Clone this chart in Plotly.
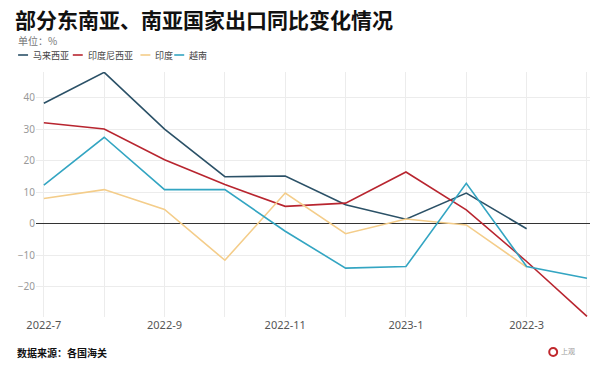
import plotly.graph_objects as go

months = ["2022-7", "2022-8", "2022-9", "2022-10", "2022-11", "2022-12",
          "2023-1", "2023-2", "2023-3", "2023-4"]
tick_labels = ["2022-7", "", "2022-9", "", "2022-11", "", "2023-1", "", "2022-3", ""]

series_names = ["马来西亚", "印度尼西亚", "印度", "越南"]
malaysia = [38.2, 48.0, 30.0, 14.9, 15.1, 6.0, 1.4, 9.7, -1.6]
indonesia = [32.0, 30.0, 20.3, 12.4, 5.5, 6.5, 16.4, 4.4, -12.0, -29.4]
india = [8.0, 10.8, 4.5, -11.6, 9.7, -3.2, 1.5, -0.4, -13.8]
vietnam = [12.2, 27.4, 10.8, 10.8, -2.4, -14.1, -13.6, 12.8, -13.6, -17.3]
series_values = [malaysia, indonesia, india, vietnam]
series_colors = ["#2b5167", "#b8252f", "#f4cd8a", "#33a5c2"]

y_ticks = [-20, -10, 0, 10, 20, 30, 40]

CJK = "Noto Sans CJK SC, Noto Sans, sans-serif"

# the page body adds an 8px offset; figure is sized so it fills the 600x367 window
OFF = 8
W, H = 600 - OFF, 367 - OFF
ML, MR, MT, MB = 33 - OFF, 10, 72 - OFF, 50
PW = W - ML - MR
PH = H - MT - MB


def px_x(p):
    # p given in window pixels
    return (p - OFF - ML) / PW


def px_y(p):
    return (H - MB - (p - OFF)) / PH


fig = go.Figure()
for name, vals, col in zip(series_names, series_values, series_colors):
    fig.add_trace(go.Scatter(
        x=months[:len(vals)], y=vals, mode="lines", name=name,
        line=dict(color=col, width=1.6), showlegend=False,
    ))

fig.update_layout(
    width=W, height=H,
    margin=dict(l=ML, r=MR, t=MT, b=MB),
    paper_bgcolor="white", plot_bgcolor="white",
    font=dict(family=CJK),
    xaxis=dict(
        type="category", categoryorder="array", categoryarray=months,
        tickvals=months, ticktext=tick_labels,
        range=[-0.13, 9.05],
        showgrid=True, gridcolor="#ececec", gridwidth=1,
        zeroline=False, showline=False, ticks="",
        tickfont=dict(family="Noto Sans, sans-serif", size=11, color="#555"),
    ),
    yaxis=dict(
        range=[-29.6, 48.1],
        tickvals=y_ticks,
        showgrid=True, gridcolor="#ececec", gridwidth=1,
        zeroline=True, zerolinecolor="#333", zerolinewidth=1,
        showline=False, ticks="",
        tickfont=dict(family="Noto Sans, sans-serif", size=10, color="#999"),
    ),
)

anns = []
anns.append(dict(text="<b>部分东南亚、南亚国家出口同比变化情况</b>", xref="paper", yref="paper",
                 x=px_x(10), y=px_y(19), xanchor="left", yanchor="middle",
                 showarrow=False, font=dict(family=CJK, size=21, color="#111")))
anns.append(dict(text="单位：%", xref="paper", yref="paper",
                 x=px_x(13), y=px_y(40), xanchor="left", yanchor="middle",
                 showarrow=False, font=dict(family=CJK, size=10, color="#777")))
anns.append(dict(text="<b>数据来源：各国海关</b>", xref="paper", yref="paper",
                 x=px_x(12), y=px_y(352), xanchor="left", yanchor="middle",
                 showarrow=False, font=dict(family=CJK, size=10, color="#111")))
anns.append(dict(text="上观", xref="paper", yref="paper",
                 x=px_x(559), y=px_y(351), xanchor="left", yanchor="middle",
                 showarrow=False, font=dict(family=CJK, size=7, color="#999")))

shapes = []
# compact legend
leg_x = [15, 70, 138, 172]
for px, name, col in zip(leg_x, series_names, series_colors):
    yy = px_y(55)
    shapes.append(dict(type="line", xref="paper", yref="paper",
                       x0=px_x(px), x1=px_x(px + 10), y0=yy, y1=yy,
                       line=dict(color=col, width=1.6)))
    anns.append(dict(text=name, xref="paper", yref="paper",
                     x=px_x(px + 13), y=yy, xanchor="left", yanchor="middle",
                     showarrow=False, font=dict(family=CJK, size=9, color="#444")))
# logo ring
shapes.append(dict(type="circle", xref="paper", yref="paper",
                   x0=px_x(549), x1=px_x(557), y0=px_y(356), y1=px_y(348),
                   line=dict(color="#c0282d", width=2)))

fig.update_layout(annotations=anns, shapes=shapes)

fig.write_html("out.html")
